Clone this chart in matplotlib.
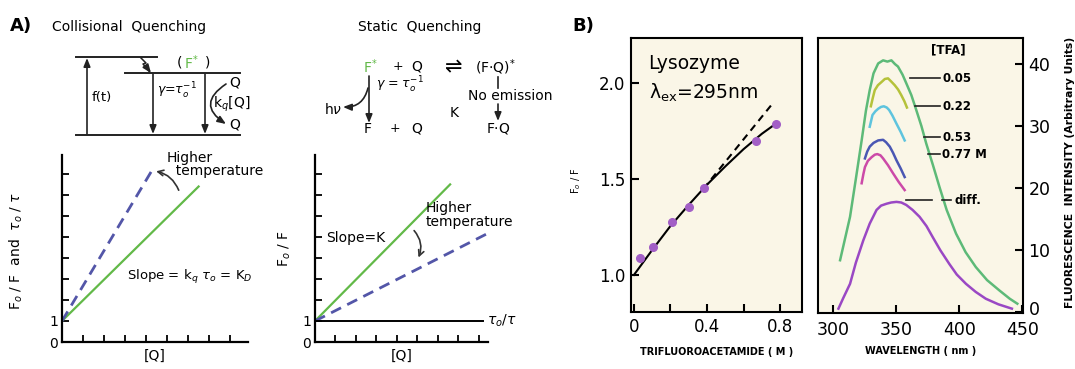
import numpy as np
import matplotlib
matplotlib.use('Agg')
import matplotlib.pyplot as plt
import matplotlib.transforms as mtransforms

plt.rcParams['font.family'] = ['DejaVu Sans']
plt.rcParams['mathtext.fontset'] = 'dejavusans'

GREEN = '#62b948'
DASH_BLUE = '#5356a8'

# Panel A: Stern-Volmer schematics (units of one tick spacing)
coll_x = [0, 6.5]
coll_y = [1, 7.4]
coll_hot_x = [0, 4.3]
coll_hot_y = [1, 8.2]

stat_x = [0, 6.6]
stat_y = [1, 7.5]
stat_hot_x = [0, 8.5]
stat_hot_y = [1, 5.2]
tau_x = [0, 8.2]
tau_y = [1, 1]

# Panel B left: lysozyme quenching by trifluoroacetamide
tfa_conc = [0.033, 0.106, 0.21, 0.30, 0.384, 0.67, 0.78]
fo_f = [1.09, 1.147, 1.278, 1.356, 1.455, 1.698, 1.785]
fit_x = [0, 0.1, 0.2, 0.3, 0.4, 0.5, 0.6, 0.7, 0.78]
fit_y = [1.0, 1.13, 1.255, 1.365, 1.47, 1.565, 1.655, 1.735, 1.79]
lin_x = [0.38, 0.76]
lin_y = [1.448, 1.894]

# Panel B right: emission spectra
wl_0 = [305.5, 309, 313.4, 318, 322.6, 326, 329, 332, 335.7, 339.6, 343, 346.2, 349, 351.4, 355,
        358, 362, 365.9, 370, 373.8, 379, 384.3, 390, 397.4, 405, 413.1, 422, 432, 440, 446]
int_0 = [8.4, 11.5, 15.4, 21.5, 27.7, 32.5, 35.8, 38.5, 40.1, 40.6, 40.4, 40.6, 40.0, 39.6, 38.3,
         36.9, 35.0, 32.6, 30.0, 27.2, 23.8, 20.2, 16.5, 12.7, 9.7, 7.3, 5.2, 3.5, 2.2, 1.4]
wl_005 = [329.9, 331.5, 333, 335.5, 338.3, 341, 343.5, 346, 348.8, 351.5, 354, 356.5, 358.5]
int_005 = [33.2, 34.6, 35.8, 36.6, 37.1, 37.6, 37.7, 37.2, 36.6, 35.9, 35.0, 34.0, 33.0]
wl_022 = [329, 331.2, 333.5, 335.7, 338, 340.2, 342.5, 344.4, 347, 350.2, 353.5, 356.7]
int_022 = [29.9, 31.8, 32.4, 32.8, 33.1, 33.2, 33.0, 32.6, 31.7, 30.4, 29.1, 27.7]
wl_053 = [325.2, 327, 329, 332, 335.7, 339.6, 342, 344.9, 347.5, 350.2, 353.5, 356.7]
int_053 = [24.8, 25.9, 26.7, 27.3, 27.7, 27.8, 27.4, 26.7, 25.7, 24.5, 23.2, 21.8]
wl_077 = [322.6, 324, 325.2, 327.5, 330.5, 333, 335, 337.5, 339.6, 343.5, 347.5, 352, 356.7]
int_077 = [20.8, 22.3, 23.4, 24.4, 25.0, 25.4, 25.5, 25.3, 24.8, 23.7, 22.4, 21.0, 19.7]
wl_diff = [304.2, 308, 313.4, 318, 323.9, 329, 334.4, 338, 342.3, 346, 350.2, 354, 358, 363, 368.5,
           374, 379, 385, 392.1, 398, 405.3, 413, 421, 431, 441.7]
int_diff = [0.6, 2.3, 4.6, 8.0, 11.6, 14.3, 16.5, 17.2, 17.5, 17.7, 17.8, 17.7, 17.3, 16.5, 15.4,
            13.9, 12.1, 10.0, 7.8, 6.1, 4.6, 3.3, 2.2, 1.3, 0.6]

tfa_labels = ['0.05', '0.22', '0.53', '0.77 M']
tfa_levels = [37.7, 33.2, 28.2, 25.5]
tfa_line_start = [360.6, 364.6, 372.4, 374.8]

W, H = 1075, 369
fig = plt.figure(figsize=(W / 100, H / 100), dpi=100)


def px_axes(left, top, right, bottom, **kw):
    return fig.add_axes([left / W, 1 - bottom / H, (right - left) / W, (bottom - top) / H], **kw)


def style_a(ax, xmax):
    ax.set_xlim(0, xmax)
    ax.set_ylim(0, 8.9)
    for s in ['top', 'right']:
        ax.spines[s].set_visible(False)
    for s in ['left', 'bottom']:
        ax.spines[s].set_linewidth(1.6)
    ax.set_xticks(np.arange(1, 9))
    ax.set_xticklabels([])
    ax.set_yticks(np.arange(0, 9))
    ax.set_yticklabels(['0', '1'] + [''] * 7)
    ax.tick_params(direction='in', length=5, width=1.3, labelsize=10, pad=3)
    ax.set_xlabel('[Q]', fontsize=10, labelpad=2)


# ---- A, collisional quenching plot
axc = px_axes(62, 155, 248, 342)
style_a(axc, 8.85)
axc.plot(coll_x, coll_y, color=GREEN, lw=1.6)
axc.plot(coll_hot_x, coll_hot_y, color=DASH_BLUE, lw=2, ls=(0, (4, 2.5)))
axc.set_ylabel(r'F$_o$ / F  and  $\tau_o$ / $\tau$', fontsize=10)
axc.yaxis.set_label_coords(-0.2, 0.49)
axc.text(5.0, 9.1, 'Higher\n  temperature', fontsize=10, va='top', ha='left', linespacing=0.95)
axc.annotate('', xy=(4.35, 8.15), xytext=(5.6, 7.1),
             arrowprops=dict(arrowstyle='->', color='#333333', lw=1.2,
                             connectionstyle='arc3,rad=0.3'))
axc.text(3.1, 3.1, r'Slope = k$_q$ $\tau_o$ = K$_D$', fontsize=9.5, va='center')

# ---- A, static quenching plot
axs = px_axes(315, 155, 488, 342)
style_a(axs, 8.45)
axs.plot(stat_x, stat_y, color=GREEN, lw=1.6)
axs.plot(stat_hot_x, stat_hot_y, color=DASH_BLUE, lw=2, ls=(0, (4, 2.5)), clip_on=False)
axs.plot(tau_x, tau_y, color='black', lw=1.4)
axs.text(8.4, 1, r'$\tau_o/\tau$', fontsize=10, va='center')
axs.set_ylabel(r'F$_o$ / F', fontsize=10)
axs.yaxis.set_label_coords(-0.13, 0.5)
axs.text(0.55, 4.95, 'Slope=K', fontsize=10, va='center')
axs.text(5.4, 6.7, 'Higher\ntemperature', fontsize=10, va='top', ha='left', linespacing=0.95)
axs.annotate('', xy=(5.0, 3.9), xytext=(4.75, 5.4),
             arrowprops=dict(arrowstyle='->', color='#333333', lw=1.2,
                             connectionstyle='arc3,rad=-0.35'))

# ---- B, Stern-Volmer plot
CREAM = '#faf6e7'
axb = px_axes(631, 38, 802, 312, facecolor=CREAM)
axb.set_xlim(-0.016, 0.92)
axb.set_ylim(0.807, 2.234)
axb.plot(fit_x, fit_y, color='black', lw=1.5)
axb.plot(lin_x, lin_y, color='black', lw=1.5, ls=(0, (3.5, 2.5)))
axb.plot(tfa_conc, fo_f, 'o', color='#a25fc6', ms=5.5)
axb.set_xticks([0, 0.2, 0.4, 0.6, 0.8])
axb.set_xticklabels(['0', '', '0.4', '', '0.8'])
axb.set_yticks([1.0, 1.5, 2.0])
axb.set_yticklabels(['1.0', '1.5', '2.0'])
axb.tick_params(direction='in', length=6, width=1.5, labelsize=12, pad=4)
for s in axb.spines.values():
    s.set_linewidth(1.5)
axb.set_xlabel('TRIFLUOROACETAMIDE ( M )', fontsize=7, fontweight='bold', labelpad=8)
axb.set_ylabel(r'F$_o$ / F', fontsize=7)
axb.yaxis.set_label_coords(-0.28, 0.48)
axb.text(0.08, 2.1, 'Lysozyme', fontsize=13.5, va='center')
axb.text(0.08, 1.95, '\u03bb$_{\\mathregular{ex}}$=295nm', fontsize=13.5, va='center')

# ---- B, emission spectra
axe = px_axes(818, 38, 1023, 313, facecolor=CREAM)
axe.set_xlim(288, 450.5)
axe.set_ylim(-0.1, 44.2)
axe.plot(wl_0, int_0, color='#5dba78', lw=1.8)
axe.plot(wl_005, int_005, color='#b5c23a', lw=1.8)
axe.plot(wl_022, int_022, color='#5ec4de', lw=1.8)
axe.plot(wl_053, int_053, color='#4a57b3', lw=1.8)
axe.plot(wl_077, int_077, color='#cc4aa8', lw=1.8)
axe.plot(wl_diff, int_diff, color='#9a48c4', lw=1.8)
for lab, lev, x0 in zip(tfa_labels, tfa_levels, tfa_line_start):
    axe.plot([x0, 384.5], [lev, lev], color='#222222', lw=1.2)
    axe.text(386.5, lev, lab, fontsize=8.5, fontweight='bold', va='center')
axe.plot([358, 378.5], [18.1, 18.1], color='#222222', lw=1.2)
axe.plot([386, 393.5], [18.1, 18.1], color='#222222', lw=1.2)
axe.text(396, 18.1, 'diff.', fontsize=8.5, fontweight='bold', va='center')
axe.text(391, 42.3, '[TFA]', fontsize=8.5, fontweight='bold', va='center', ha='center')
axe.yaxis.tick_right()
axe.yaxis.set_label_position('right')
axe.set_xticks([300, 350, 400, 450])
axe.set_yticks([0, 10, 20, 30, 40])
axe.tick_params(direction='in', length=6, width=1.5, labelsize=12.5, pad=4)
axe.tick_params(axis='x', pad=6)
for s in axe.spines.values():
    s.set_linewidth(1.5)
# lift the "0" intensity label clear of the "450" wavelength label
zero_lab = axe.get_yticklabels()[0]
zero_lab.set_transform(zero_lab.get_transform() +
                       mtransforms.ScaledTranslation(0, 4 / 100, fig.dpi_scale_trans))
axe.set_xlabel('WAVELENGTH ( nm )', fontsize=7, fontweight='bold', labelpad=5)
axe.set_ylabel('FLUORESCENCE  INTENSITY (Arbitrary Units)', fontsize=7.8, fontweight='bold')
axe.yaxis.set_label_coords(1.205, 0.51)

# ---- energy diagrams and captions, drawn in pixel space
ov = fig.add_axes([0, 0, 1, 1], zorder=5)
ov.set_xlim(0, W)
ov.set_ylim(H, 0)
ov.axis('off')
ov.patch.set_alpha(0)

arrow = dict(arrowstyle='-|>,head_length=0.5,head_width=0.2', color='#222222', lw=1.2,
             shrinkA=0, shrinkB=0)

ov.text(10, 26, 'A)', fontsize=13, fontweight='bold', va='center')
ov.text(572, 26, 'B)', fontsize=13, fontweight='bold', va='center')
ov.text(52, 27, 'Collisional  Quenching', fontsize=10, va='center')
ov.text(420, 27, 'Static  Quenching', fontsize=10, va='center', ha='center')

# Jablonski-style diagram for collisional quenching
for y, x0, x1 in [(57, 76, 157), (73, 125, 240), (135, 76, 240)]:
    ov.plot([x0, x1], [y, y], color='#222222', lw=1.4)
ov.annotate('', xy=(87, 58), xytext=(87, 134), arrowprops=arrow)
ov.text(92, 97, 'f(t)', fontsize=9.5, va='center')
ov.annotate('', xy=(153, 134), xytext=(153, 74), arrowprops=arrow)
ov.text(157, 91, r'$\gamma$=$\tau_o^{-1}$', fontsize=9, va='center')
ov.annotate('', xy=(205, 134), xytext=(205, 74), arrowprops=arrow)
ov.plot([141, 146, 143, 149], [58, 63, 64, 71], color='#222222', lw=1.1)
ov.annotate('', xy=(151, 73), xytext=(148, 69), arrowprops=arrow)
ov.text(177, 63, '(', fontsize=10, va='center')
ov.text(184, 63, r'F$^{*}$', fontsize=10, va='center', color=GREEN)
ov.text(205, 63, ')', fontsize=10, va='center')
ov.annotate('', xy=(226, 124), xytext=(226, 84),
            arrowprops=dict(arrow, connectionstyle='arc3,rad=0.75'))
ov.text(229, 82, 'Q', fontsize=10, va='center')
ov.text(229, 125, 'Q', fontsize=10, va='center')
ov.text(213, 104, r'k$_q$[Q]', fontsize=10, va='center')

# reaction scheme for static quenching
ov.text(363, 67, r'F$^{*}$', fontsize=10, va='center', color=GREEN)
ov.text(393, 67, '+', fontsize=9, va='center')
ov.text(411, 67, 'Q', fontsize=10, va='center')
ov.text(454, 67, '\u21cc', fontsize=15, va='center', ha='center')
ov.text(475, 67, r'(F$\cdot$Q)$^{*}$', fontsize=10, va='center')
ov.annotate('', xy=(369, 123), xytext=(369, 76), arrowprops=arrow)
ov.text(376, 85, r'$\gamma$ = $\tau_o^{-1}$', fontsize=9, va='center')
ov.annotate('', xy=(343, 107), xytext=(368, 88),
            arrowprops=dict(arrow, connectionstyle='arc3,rad=-0.4'))
ov.text(324, 110, r'h$\nu$', fontsize=10, va='center')
ov.text(364, 129, 'F', fontsize=10, va='center')
ov.text(390, 129, '+', fontsize=9, va='center')
ov.text(411, 129, 'Q', fontsize=10, va='center')
ov.text(454, 113, 'K', fontsize=10, va='center', ha='center')
ov.plot([498, 498], [77, 88], color='#222222', lw=1.2)
ov.text(510, 96, 'No emission', fontsize=10, va='center', ha='center')
ov.annotate('', xy=(498, 121), xytext=(498, 104), arrowprops=arrow)
ov.text(498, 129, r'F$\cdot$Q', fontsize=10, va='center', ha='center')

fig.savefig('out.png', dpi=100)
